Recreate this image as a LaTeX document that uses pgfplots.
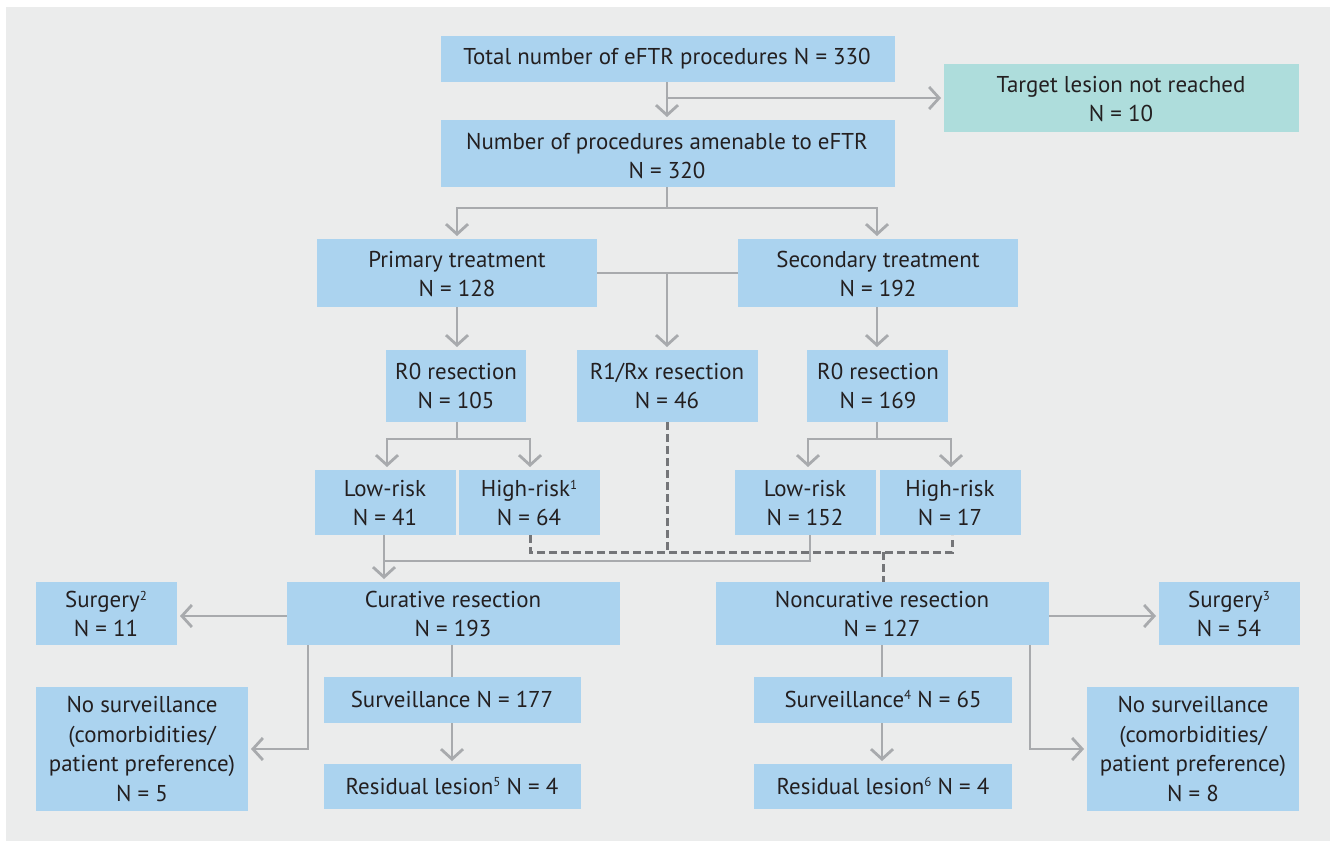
\documentclass[border=0pt]{standalone}
\usepackage{pgfplots}
\pgfplotsset{compat=1.18}
\usetikzlibrary{arrows.meta}
\usepackage{fontspec}
\setmainfont{PT Sans}
\definecolor{bg}{HTML}{EBECEC}
\definecolor{boxblue}{HTML}{ABD3EF}
\definecolor{teal}{HTML}{AEDDDC}
\definecolor{txt}{HTML}{231F20}
\definecolor{ln}{HTML}{A8AAAD}
\definecolor{dsh}{HTML}{747578}
\newcommand{\sups}[1]{\raisebox{0.62ex}{\fontsize{13}{13}\selectfont #1}}
\tikzset{t/.style={font=\fontsize{23}{29.8}\selectfont,text=txt,align=center,inner sep=0pt},
  ar/.style={-{Straight Barb[length=10bp,width=22bp]}}}
\begin{document}
\begin{tikzpicture}
\begin{axis}[width=1335bp,height=841bp,scale only axis,
  xmin=0,xmax=1335,ymin=0,ymax=841,y dir=reverse,hide axis,clip=false]
% background
\fill[white] (0,0) rectangle (1335,841);
\fill[bg] (6,7) rectangle (1330,841);
% solid connectors
\begin{scope}[draw=ln,line width=2.8bp]
\draw[ar] (667,81) -- (667,117);
\draw[ar] (667,98) -- (941,98);
\draw (667,187) -- (667,208);
\draw[ar] (457,208) -- (877,208) -- (877,236);
\draw[ar] (877,208) -- (457,208) -- (457,236);
\draw (597,273) -- (738,273);
\draw[ar] (667,273) -- (667,347);
\draw[ar] (457,306) -- (457,347);
\draw[ar] (877,306) -- (877,347);
\draw (457,422) -- (457,439);
\draw[ar] (457,439) -- (387,439) -- (387,467);
\draw[ar] (457,439) -- (530,439) -- (530,467);
\draw (877,422) -- (877,439);
\draw[ar] (877,439) -- (808,439) -- (808,467);
\draw[ar] (877,439) -- (951,439) -- (951,467);
\draw[ar] (384,535) -- (384,579);
\draw (384,561) -- (810,561) -- (810,535);
\draw[ar] (287,616) -- (180,616);
\draw[ar] (308,644) -- (308,749) -- (251,749);
\draw (452,644) -- (452,677);
\draw[ar] (452,723) -- (452,761);
\draw[ar] (1049,616) -- (1156,616);
\draw[ar] (1030,644) -- (1030,749) -- (1084,749);
\draw (882,644) -- (882,677);
\draw[ar] (882,723) -- (882,761);
\end{scope}
% dashed connectors
\begin{scope}[draw=dsh,line width=3bp,dash pattern=on 7.5bp off 4.5bp]
\draw (667,422) -- (667,552);
\draw (530,535) -- (530,552) -- (952,552) -- (952,535);
\draw (883,552) -- (883,582);
\end{scope}
% boxes
\fill[boxblue] (441,36) rectangle (895,82);
\fill[teal] (944,64) rectangle (1299,132);
\fill[boxblue] (441,120) rectangle (895,187);
\fill[boxblue] (317,239) rectangle (597,307);
\fill[boxblue] (738,239) rectangle (1018,307);
\fill[boxblue] (386,350) rectangle (526,422);
\fill[boxblue] (577,350) rectangle (758,422);
\fill[boxblue] (807,350) rectangle (948,422);
\fill[boxblue] (315,470) rectangle (456,535);
\fill[boxblue] (459,470) rectangle (600,535);
\fill[boxblue] (735,470) rectangle (876,535);
\fill[boxblue] (880,470) rectangle (1021,535);
\fill[boxblue] (36,582) rectangle (177,645);
\fill[boxblue] (287,582) rectangle (620,645);
\fill[boxblue] (716,582) rectangle (1049,645);
\fill[boxblue] (1159,582) rectangle (1300,645);
\fill[boxblue] (36,687) rectangle (248,811);
\fill[boxblue] (324,677) rectangle (581,723);
\fill[boxblue] (324,764) rectangle (581,809);
\fill[boxblue] (754,677) rectangle (1012,723);
\fill[boxblue] (754,764) rectangle (1012,809);
\fill[boxblue] (1087,687) rectangle (1299,811);
% texts
\node[t] at (667,59) {Total number of eFTR procedures N = 330};
\node[t] at (1121,99) {Target lesion not reached\\N = 10};
\node[t] at (667,156) {Number of procedures amenable to eFTR\\N = 320};
\node[t] at (457,274) {Primary treatment\\N = 128};
\node[t] at (878,274) {Secondary treatment\\N = 192};
\node[t] at (456,386) {R0 resection\\N = 105};
\node[t] at (667,386) {R1/Rx resection\\N = 46};
\node[t] at (878,386) {R0 resection\\N = 169};
\node[t] at (385,503) {Low-risk\\N = 41};
\node[t] at (529,503) {High-risk\sups{1}\\N = 64};
\node[t] at (805,503) {Low-risk\\N = 152};
\node[t] at (950,503) {High-risk\\N = 17};
\node[t] at (106,614) {Surgery\sups{2}\\N = 11};
\node[t] at (453,614) {Curative resection\\N = 193};
\node[t] at (882,614) {Noncurative resection\\N = 127};
\node[t] at (1229,614) {Surgery\sups{3}\\N = 54};
\node[t] at (142,749) {No surveillance\\(comorbidities/\\patient preference)\\N = 5};
\node[t] at (452,699) {Surveillance N = 177};
\node[t] at (452,786) {Residual lesion\sups{5} N = 4};
\node[t] at (883,699) {Surveillance\sups{4} N = 65};
\node[t] at (883,786) {Residual lesion\sups{6} N = 4};
\node[t] at (1193,749) {No surveillance\\(comorbidities/\\patient preference)\\N = 8};
\end{axis}
\end{tikzpicture}
\end{document}
